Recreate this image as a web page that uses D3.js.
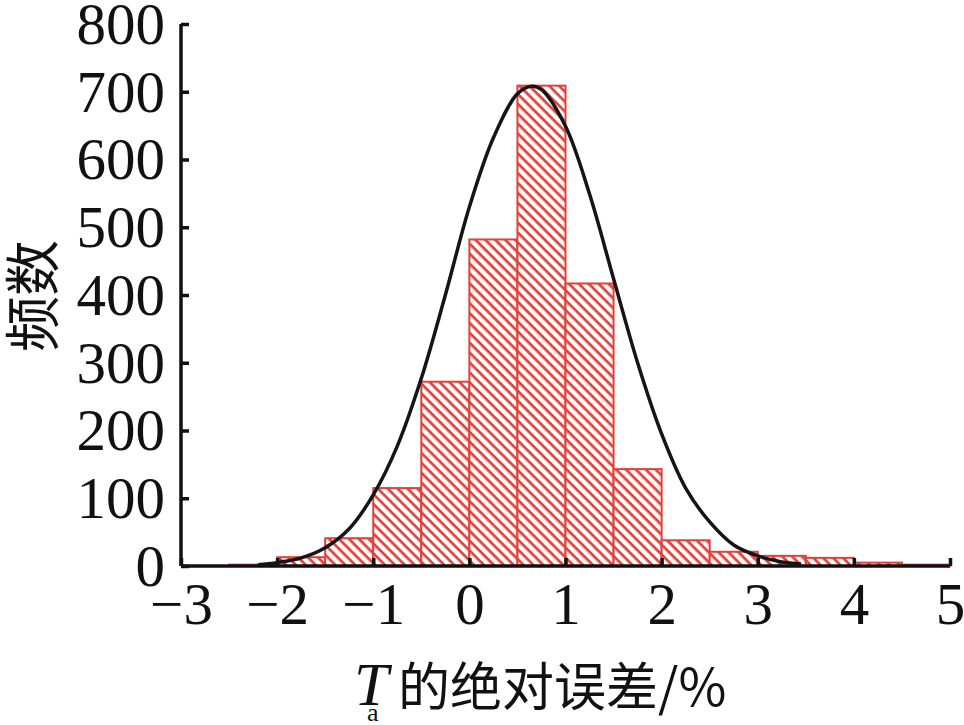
<!DOCTYPE html>
<html>
<head>
<meta charset="utf-8">
<script src="https://cdn.jsdelivr.net/npm/d3@7/dist/d3.min.js"></script>
<style>
  html, body { margin: 0; padding: 0; background: #fff; }
  svg { display: block; }
</style>
</head>
<body>
<svg id="chart" width="964" height="725"></svg>
<script>
// ---- data ----
const binStarts = [-2.5, -2.0, -1.5, -1.0, -0.5, 0.0, 0.5, 1.0, 1.5, 2.0, 2.5, 3.0, 3.5, 4.0, 4.5];
const binWidth = 0.5;
const counts = [2, 13, 41, 115, 272, 482, 709, 417, 143, 38, 21, 15, 12, 5, 2];
const curveX = [-2.2, -2.0, -1.75, -1.5, -1.25, -1.0, -0.75, -0.5, -0.25, 0.0, 0.25, 0.5, 0.65, 0.75, 1.0, 1.25, 1.5, 1.75, 2.0, 2.25, 2.5, 2.75, 3.0, 3.25, 3.45];
const curveY = [2, 5, 12, 27, 55, 105, 177, 277, 400, 530, 632, 697, 708, 703, 649, 549, 424, 300, 195, 115, 65, 31, 15, 6, 3];
const xTicks = [-3, -2, -1, 0, 1, 2, 3, 4, 5];
const yTicks = [0, 100, 200, 300, 400, 500, 600, 700, 800];
const xTitleMain = "T";
const xTitleSub = "a";
const xTitleRest = "的绝对误差/%";
const yTitle = "频数";

// ---- layout ----
const svg = d3.select("#chart");
const x = d3.scaleLinear().domain([-3, 5]).range([181, 950]);
const y = d3.scaleLinear().domain([0, 800]).range([566, 24]);
const red = "#e2403a";

const defs = svg.append("defs");
const pat = defs.append("pattern")
  .attr("id", "hatch")
  .attr("patternUnits", "userSpaceOnUse")
  .attr("width", 7).attr("height", 7)
  .attr("patternTransform", "rotate(45)");
pat.append("rect").attr("width", 7).attr("height", 7).attr("fill", "#fff");
pat.append("rect").attr("x", 0).attr("y", 0).attr("width", 7).attr("height", 2.7).attr("fill", red);

// bars
svg.append("g").selectAll("rect")
  .data(binStarts.map((s, i) => ({ s, c: counts[i] })))
  .join("rect")
  .attr("x", d => x(d.s))
  .attr("y", d => y(d.c))
  .attr("width", d => x(d.s + binWidth) - x(d.s))
  .attr("height", d => y(0) - y(d.c))
  .attr("fill", "url(#hatch)")
  .attr("stroke", red)
  .attr("stroke-width", 2);

// axes
const font = "'Liberation Serif', 'Times New Roman', serif";
const fmt = v => (v < 0 ? "\u2212" + Math.abs(v) : String(v));

const xAxis = d3.axisBottom(x).tickValues(xTicks).tickSize(-8).tickPadding(16).tickFormat(fmt);
const gx = svg.append("g").attr("transform", `translate(0,${y(0)})`).call(xAxis);
gx.select(".domain").attr("stroke", "#111").attr("stroke-width", 3.5).attr("d", `M${x(-3)},0H${x(5)}`);
gx.selectAll(".tick line").attr("stroke", "#111").attr("stroke-width", 3.5);
gx.selectAll(".tick text").attr("font-family", font).attr("font-size", 59).attr("fill", "#111")
  .attr("dy", "0.71em");

const yAxis = d3.axisLeft(y).tickValues(yTicks).tickSize(-8).tickPadding(16);
const gy = svg.append("g").attr("transform", `translate(${x(-3)},0)`).call(yAxis);
gy.select(".domain").attr("stroke", "#111").attr("stroke-width", 3.5).attr("d", `M0,${y(0)}V${y(800)}`);
gy.selectAll(".tick line").attr("stroke", "#111").attr("stroke-width", 3.5);
gy.selectAll(".tick text").attr("font-family", font).attr("font-size", 59).attr("fill", "#111")
  .attr("dy", "0.33em");

// normal fit curve
const line = d3.line().x(d => x(d[0])).y(d => y(d[1])).curve(d3.curveCatmullRom);
svg.append("path")
  .datum(curveX.map((v, i) => [v, curveY[i]]))
  .attr("d", line)
  .attr("fill", "none")
  .attr("stroke", "#151515")
  .attr("stroke-width", 3.5);

// x title
const xt = svg.append("g");
xt.append("text").attr("x", 354).attr("y", 705)
  .attr("font-family", font).attr("font-style", "italic").attr("font-size", 62).attr("fill", "#111")
  .text(xTitleMain);
xt.append("text").attr("x", 367).attr("y", 721)
  .attr("font-family", font).attr("font-size", 26).attr("fill", "#111")
  .text(xTitleSub);
xt.append("text").attr("x", 398).attr("y", 706)
  .attr("font-family", "'Noto Sans CJK SC', sans-serif").attr("font-size", 52).attr("fill", "#111")
  .text(xTitleRest);

// y title
svg.append("text")
  .attr("transform", "translate(53,296) rotate(-90)")
  .attr("text-anchor", "middle")
  .attr("font-family", "'Noto Sans CJK SC', sans-serif").attr("font-size", 56).attr("fill", "#111")
  .text(yTitle);
</script>
</body>
</html>
